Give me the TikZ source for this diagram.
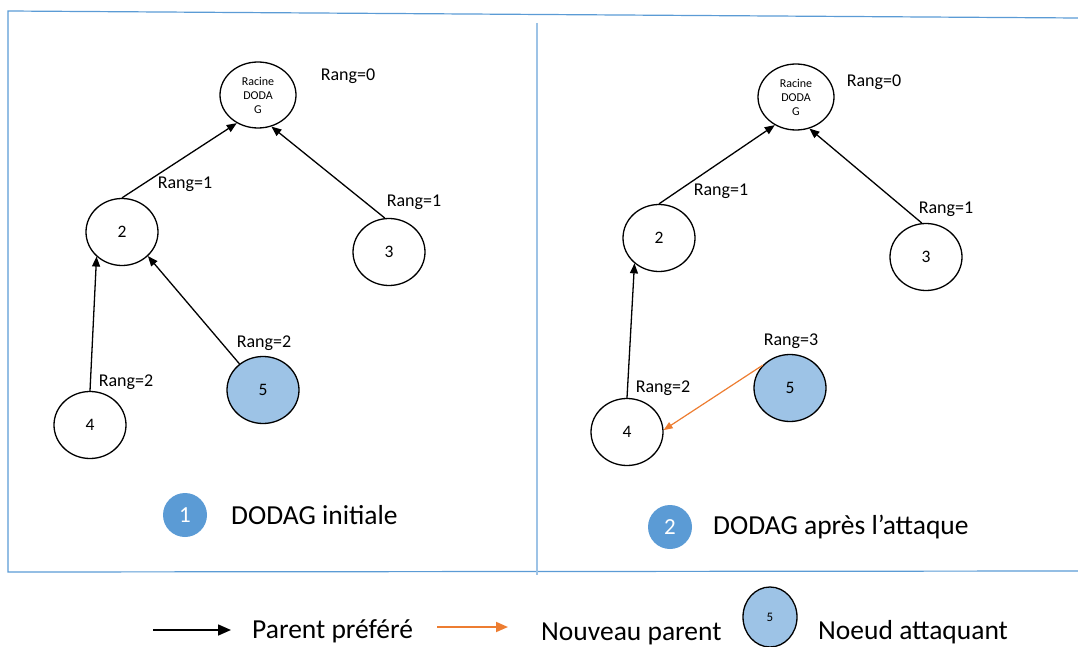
\documentclass[tikz,border=0pt]{standalone}
\usepackage{fontspec}
\setmainfont{Carlito}
\usetikzlibrary{shapes.geometric,arrows.meta}
\definecolor{frameblue}{RGB}{91,155,213}
\definecolor{lightframe}{RGB}{157,195,230}
\definecolor{attackfill}{RGB}{157,195,230}
\definecolor{stepfill}{RGB}{91,155,213}
\definecolor{neworange}{RGB}{237,125,49}
\tikzset{
  dnode/.style={ellipse,draw,line width=1.3pt,minimum width=72pt,minimum height=67pt,inner sep=0pt,font=\fontsize{17.5}{19}\selectfont},
  rootnode/.style={dnode,minimum width=76pt,minimum height=66pt,align=center,font=\fontsize{12}{14}\selectfont},
  attacker/.style={dnode,fill=attackfill},
  rang/.style={font=\fontsize{18}{20}\selectfont,inner sep=0pt},
  parent/.style={line width=1.3pt,-{Triangle[length=10pt,width=8pt]}},
  newparent/.style={line width=1.2pt,draw=neworange,-{Triangle[length=9pt,width=7pt]}},
  stepmark/.style={ellipse,fill=stepfill,minimum width=44pt,minimum height=44pt,inner sep=0pt,text=white,font=\fontsize{23}{25}\selectfont},
  caption/.style={font=\fontsize{27.5}{29}\selectfont,inner sep=0pt,anchor=west},
}
\begin{document}
\begin{tikzpicture}[x=1pt,y=-1pt]
\useasboundingbox (0,0) rectangle (1078,647);
% outer frame and panel divider
\draw[frameblue,line width=1.2pt] (1078,18) -- (8,11) -- (8,572) -- (1078,571);
\draw[lightframe,line width=1.5pt] (537,23) -- (537,575);

% ---- left panel: initial DODAG ----
\node[rootnode] (rootA) at (258,95) {Racine\\DODA\\G};
\node[dnode] (twoA) at (122,232) {2};
\node[dnode] (threeA) at (389,252) {3};
\node[dnode] (fourA) at (90,425) {4};
\node[attacker] (fiveA) at (263,390) {5};
\node[rang] at (348,76) {Rang=0};
\node[rang] at (185,184) {Rang=1};
\node[rang] at (414,202) {Rang=1};
\node[rang] at (264,343) {Rang=2};
\node[rang] at (126,382) {Rang=2};
\draw[parent] (twoA.north) -- (rootA.233);
\draw[parent] (threeA.97) -- (rootA.293);
\draw[parent] (fourA.north) -- (twoA.224);
\draw[parent] (fiveA.132) -- (twoA.317);
\node[stepmark] (stepA) at (185,515) {1};
\node[caption] at (231,515) {DODAG initiale};

% ---- right panel: DODAG after the attack ----
\node[rootnode] (rootB) at (796,97) {Racine\\DODA\\G};
\node[dnode] (twoB) at (659,238) {2};
\node[dnode] (threeB) at (926,257) {3};
\node[dnode] (fourB) at (627,432) {4};
\node[attacker] (fiveB) at (790,388) {5};
\node[rang] at (874,82) {Rang=0};
\node[rang] at (721,191) {Rang=1};
\node[rang] at (946,209) {Rang=1};
\node[rang] at (791,341) {Rang=3};
\node[rang] at (663,388) {Rang=2};
\draw[parent] (twoB.north) -- (rootB.233);
\draw[parent] (threeB.97) -- (rootB.293);
\draw[parent] (fourB.north) -- (twoB.226);
\draw[newparent] (fiveB.140) -- (fourB.3);
\node[stepmark] (stepB) at (670,527) {2};
\node[caption] at (713,527) {DODAG après l’attaque};

% ---- legend ----
\coordinate (lgA1) at (153,630);
\coordinate (lgA2) at (231,630);
\coordinate (lgB1) at (437,627);
\coordinate (lgB2) at (508,627);
\draw[parent,line width=1.6pt,-{Triangle[length=13pt,width=11pt]}] (lgA1) -- (lgA2);
\node[caption] at (252,631) {Parent préféré};
\draw[newparent,line width=1.8pt,-{Triangle[length=12pt,width=10pt]}] (lgB1) -- (lgB2);
\node[caption] at (541,634) {Nouveau parent};
\node[attacker,minimum width=54pt,minimum height=60pt,font=\fontsize{13}{14}\selectfont] (lgFive) at (770,617) {5};
\node[caption] at (818,632) {Noeud attaquant};
\end{tikzpicture}
\end{document}
